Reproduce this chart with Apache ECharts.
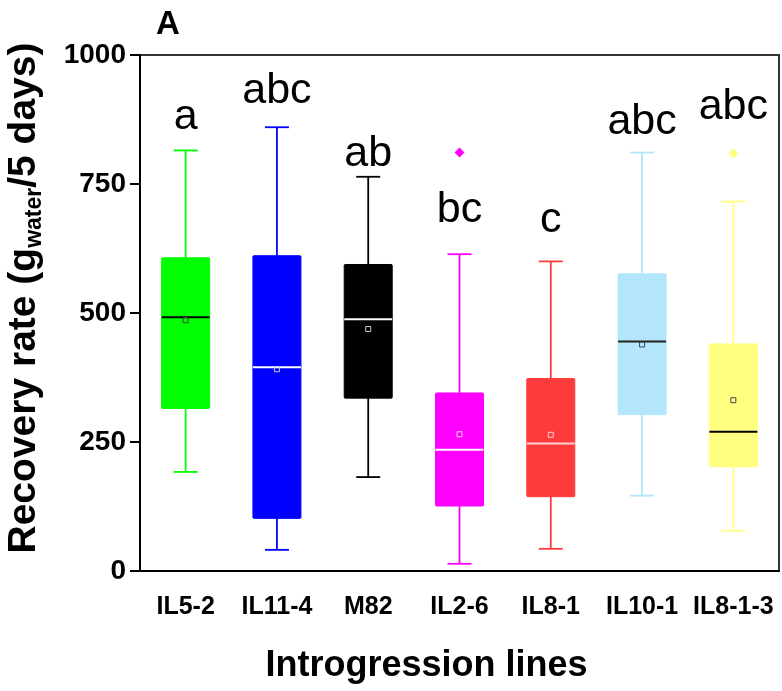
<!DOCTYPE html>
<html>
<head>
<meta charset="utf-8">
<script src="https://cdn.jsdelivr.net/npm/echarts@6/dist/echarts.min.js"></script>
<style>html,body{margin:0;padding:0;background:#fff;}#c{width:782px;height:691px;}</style>
</head>
<body>
<div id="c"></div>
<script>
var categories = ['IL5-2', 'IL11-4', 'M82', 'IL2-6', 'IL8-1', 'IL10-1', 'IL8-1-3'];
var whiskerLow = [192, 41, 182, 14, 43, 146, 78];
var q1 = [315, 102, 335, 126, 144, 303, 202];
var median = [492, 395, 488, 235, 247, 445, 270];
var q3 = [607, 611, 594, 345, 373, 576, 440];
var whiskerHigh = [815, 860, 764, 614, 600, 811, 716];
var means = [486, 391, 469, 265, 264, 439, 331];
var outlierCats = ['IL2-6', 'IL8-1-3'];
var outlierVals = [811, 809];
var letters = ['a', 'abc', 'ab', 'bc', 'c', 'abc', 'abc'];
var letterVals = [880, 930, 808, 700, 680, 870, 898];
var yTicks = [0, 250, 500, 750, 1000];

var boxColors = ['#00ff00', '#0000ff', '#000000', '#ff00ff', '#ff3a3a', '#b3e6fb', '#ffff80'];
var medianColors = ['#000000', '#ffffff', '#ffffff', '#ffffff', '#ffd0d0', '#222222', '#000000'];
var meanColors = ['#444444', '#cccccc', '#cccccc', '#ffd0ff', '#ffd0d0', '#444444', '#444444'];
var outlierColors = ['#ff00ff', '#ffff80'];

var boxData = categories.map(function (c, i) {
  return [i, whiskerLow[i], q1[i], median[i], q3[i], whiskerHigh[i], means[i]];
});

var chart = echarts.init(document.getElementById('c'), null, {renderer: 'canvas'});
var FONT = '"Liberation Sans", Arial, sans-serif';

chart.setOption({
  animation: false,
  backgroundColor: '#ffffff',
  title: {
    text: 'A', left: 151, top: 3,
    textStyle: {fontFamily: FONT, fontWeight: 'bold', fontSize: 33, color: '#000'}
  },
  grid: {left: 140, top: 55, right: 3, bottom: 120, show: true, borderColor: '#333', borderWidth: 2,
    containLabel: false, outerBoundsMode: 'none'},
  xAxis: {
    type: 'category',
    data: categories,
    boundaryGap: true,
    axisLine: {lineStyle: {color: '#000', width: 2}},
    axisTick: {alignWithLabel: true, length: 9, lineStyle: {color: '#000', width: 2}},
    axisLabel: {fontFamily: FONT, fontWeight: 'bold', fontSize: 25, color: '#000', margin: 24, interval: 0},
    name: 'Introgression lines',
    nameLocation: 'middle',
    nameGap: 77,
    nameTextStyle: {fontFamily: FONT, fontWeight: 'bold', fontSize: 36, color: '#000', padding: [0, 66, 0, 0]}
  },
  yAxis: {
    type: 'value',
    min: 0, max: 1000, interval: 250,
    splitLine: {show: false},
    axisLine: {show: true, lineStyle: {color: '#000', width: 2}},
    axisTick: {show: true, length: 10, lineStyle: {color: '#000', width: 2}},
    axisLabel: {fontFamily: FONT, fontWeight: 'bold', fontSize: 28, color: '#000', margin: 14,
      formatter: function (v) { return yTicks.indexOf(v) >= 0 ? String(v) : ''; }},
    name: '{a|Recovery rate (g}{s|water}{a|/5 days)}',
    nameLocation: 'middle',
    nameRotate: 90,
    nameGap: 94,
    nameTextStyle: {
      padding: [0, 0, 0, 30],
      rich: {
        a: {fontFamily: FONT, fontWeight: 'bold', fontSize: 39, color: '#000', lineHeight: 44},
        s: {fontFamily: FONT, fontWeight: 'bold', fontSize: 23, color: '#000', verticalAlign: 'bottom', lineHeight: 44}
      }
    }
  },
  series: [
    {
      type: 'custom',
      data: boxData,
      encode: {x: 0, y: [1, 2, 3, 4, 5, 6]},
      z: 3,
      renderItem: function (params, api) {
        var i = api.value(0);
        var pMin = api.coord([i, api.value(1)]);
        var pQ1 = api.coord([i, api.value(2)]);
        var pMed = api.coord([i, api.value(3)]);
        var pQ3 = api.coord([i, api.value(4)]);
        var pMax = api.coord([i, api.value(5)]);
        var pMean = api.coord([i, api.value(6)]);
        var x = pMed[0];
        var bw = 48, cw = 24, ms = 5;
        var col = boxColors[i];
        var ls = {stroke: col, lineWidth: 1.8, fill: null};
        return {
          type: 'group',
          children: [
            {type: 'line', shape: {x1: x, y1: pMax[1], x2: x, y2: pQ3[1]}, style: ls},
            {type: 'line', shape: {x1: x, y1: pQ1[1], x2: x, y2: pMin[1]}, style: ls},
            {type: 'line', shape: {x1: x - cw / 2, y1: pMax[1], x2: x + cw / 2, y2: pMax[1]}, style: ls},
            {type: 'line', shape: {x1: x - cw / 2, y1: pMin[1], x2: x + cw / 2, y2: pMin[1]}, style: ls},
            {type: 'rect', shape: {x: x - bw / 2, y: pQ3[1], width: bw, height: pQ1[1] - pQ3[1], r: 1},
              style: {fill: col, stroke: col, lineWidth: 1}},
            {type: 'line', shape: {x1: x - bw / 2, y1: pMed[1], x2: x + bw / 2, y2: pMed[1]},
              style: {stroke: medianColors[i], lineWidth: 2}},
            {type: 'rect', shape: {x: x - ms / 2, y: pMean[1] - ms / 2, width: ms, height: ms},
              style: {fill: null, stroke: meanColors[i], lineWidth: 1}}
          ]
        };
      }
    },
    {
      type: 'scatter',
      z: 4,
      symbol: 'diamond',
      symbolSize: 10,
      itemStyle: {opacity: 1},
      data: outlierCats.map(function (c, k) {
        return {value: [c, outlierVals[k]], itemStyle: {color: outlierColors[k], opacity: 1}};
      })
    },
    {
      type: 'scatter',
      z: 5,
      symbolSize: 1,
      silent: true,
      itemStyle: {opacity: 0},
      data: categories.map(function (c, i) {
        return {value: [c, letterVals[i]], name: letters[i]};
      }),
      label: {
        show: true, position: 'inside',
        formatter: function (p) { return p.name; },
        fontFamily: FONT, fontSize: 43, color: '#000000', opacity: 1, textBorderWidth: 0,
        verticalAlign: 'middle', align: 'center'
      }
    }
  ]
});
</script>
</body>
</html>
